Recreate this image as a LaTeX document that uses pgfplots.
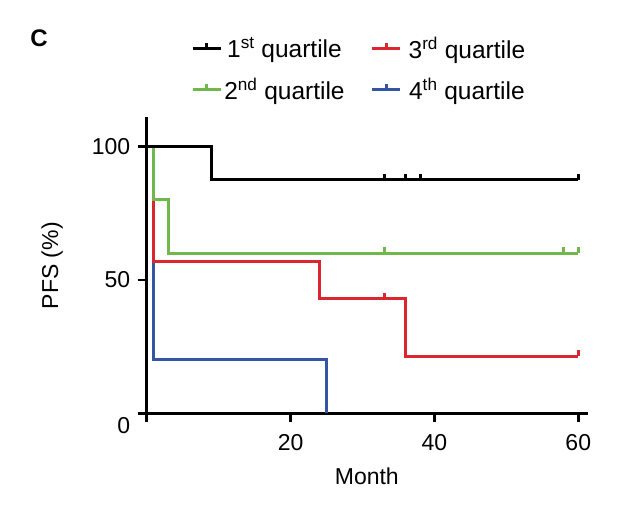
\documentclass[border=0pt]{standalone}
\usepackage{fontspec}
\setmainfont{Liberation Sans}
\usepackage{pgfplots}
\pgfplotsset{compat=1.18}
\definecolor{kmgreen}{RGB}{112,184,76}
\definecolor{kmred}{RGB}{218,38,48}
\definecolor{kmblue}{RGB}{52,84,164}
\pgfdeclareplotmark{cens}{\pgfpathmoveto{\pgfpoint{0pt}{0pt}}\pgfpathlineto{\pgfpoint{0pt}{\pgfplotmarksize}}\pgfusepathqstroke}
\begin{document}
\begin{tikzpicture}[font=\fontsize{23}{27}\selectfont]
\useasboundingbox (0,0) rectangle (638pt,-508pt);
\node[font=\fontsize{24}{28}\selectfont\bfseries] at (39pt,-38.5pt) {C};
\begin{axis}[
  at={(146.7pt,-413.3pt)}, anchor=south west,
  x=7.193pt, y=2.667pt,
  xmin=0, xmax=61.2, ymin=0, ymax=110.7,
  axis lines*=left,
  axis line style={line width=3pt, line cap=rect},
  every tick/.style={black, line width=2.8pt},
  tick align=outside, major tick length=9pt,
  xtick={0,20,40,60}, xticklabels={,20,40,60},
  ytick={50,100},
  extra y ticks={0},
  extra y tick style={yticklabel style={yshift=-12pt}},
  /pgf/number format/assume math mode=true,
  xlabel={Month}, ylabel={PFS (\%)},
  xlabel style={yshift=-10pt},
  ylabel style={yshift=4pt},
  xticklabel style={yshift=-9pt},
  yticklabel style={xshift=-4pt},
  clip=false,
  legend columns=2,
  legend style={draw=none, fill=none, at={(0.094,1.29)}, anchor=north west,
    font=\fontsize{24.5}{28}\selectfont,
    row sep=14pt, /tikz/every even column/.append style={column sep=24pt},
    nodes={inner sep=2pt}},
  legend image code/.code={\draw[#1] (0pt,0pt) -- (28pt,0pt); \draw[#1] (14pt,0pt) -- (14pt,5pt);},
  mark size=6pt,
]
% 4th quartile
\addplot[kmblue, line width=3pt, const plot, forget plot] coordinates {(0,100) (0.9,20) (25,0)};
% 3rd quartile
\addplot[kmred, line width=3pt, const plot, forget plot] coordinates {(0,100) (0.9,57.1) (24,42.9) (36,21.4) (60,21.4)};
\addplot[kmred, line width=3pt, only marks, mark=cens, forget plot] coordinates {(33,42.9) (60,21.4)};
% 2nd quartile
\addplot[kmgreen, line width=3pt, const plot, forget plot] coordinates {(0,100) (0.9,80) (3,60) (60,60)};
\addplot[kmgreen, line width=3pt, only marks, mark=cens, forget plot] coordinates {(33,60) (58,60) (60,60)};
% 1st quartile
\addplot[black, line width=3pt, const plot, forget plot] coordinates {(0,100) (9,87.5) (60,87.5)};
\addplot[black, line width=3pt, only marks, mark=cens, forget plot] coordinates {(33,87.5) (36,87.5) (38,87.5) (60,87.5)};
% legend
\addlegendimage{black, line width=3pt}
\addlegendentry{1\textsuperscript{st} quartile}
\addlegendimage{kmred, line width=3pt}
\addlegendentry{\hspace*{5pt}3\textsuperscript{rd} quartile}
\addlegendimage{kmgreen, line width=3pt}
\addlegendentry{2\textsuperscript{nd} quartile}
\addlegendimage{kmblue, line width=3pt}
\addlegendentry{\hspace*{5pt}4\textsuperscript{th} quartile}
\end{axis}
\end{tikzpicture}
\end{document}
